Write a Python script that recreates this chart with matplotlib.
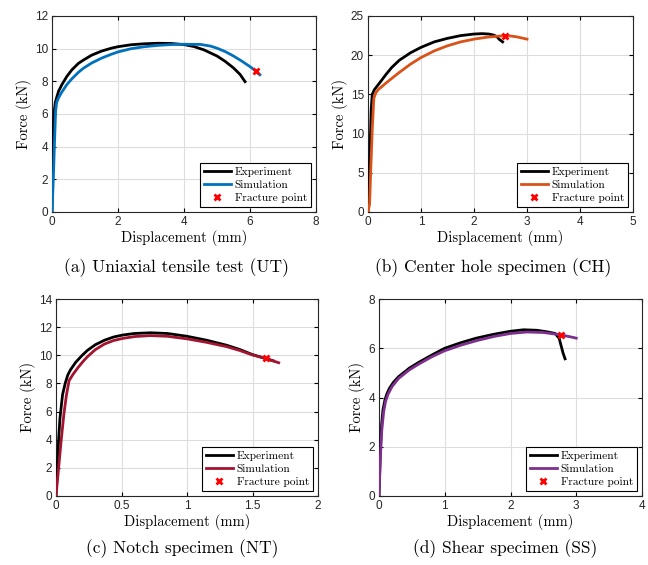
import matplotlib
matplotlib.use("Agg")
import matplotlib.pyplot as plt

# (a) Uniaxial tensile test
ut_exp_x = [0, 0.02, 0.04, 0.07, 0.1, 0.14, 0.2, 0.3, 0.45, 0.6, 0.8, 0.95, 1.2, 1.5, 1.8, 2.0, 2.4,
            2.8, 3.2, 3.6, 4.0, 4.3, 4.6, 5.0, 5.25, 5.5, 5.7, 5.85]
ut_exp_y = [0, 3.0, 5.0, 6.2, 6.7, 7.0, 7.4, 7.8, 8.3, 8.7, 9.1, 9.3, 9.6, 9.85, 10.03, 10.12, 10.24,
            10.3, 10.33, 10.32, 10.25, 10.13, 9.93, 9.55, 9.22, 8.82, 8.42, 7.98]
ut_sim_x = [0, 0.04, 0.08, 0.11, 0.14, 0.2, 0.3, 0.45, 0.6, 0.8, 0.95, 1.2, 1.5, 1.8, 2.0, 2.4, 2.8,
            3.2, 3.6, 4.0, 4.5, 4.8, 5.0, 5.25, 5.5, 5.75, 6.0, 6.15, 6.3]
ut_sim_y = [0, 2.0, 4.5, 6.2, 6.7, 7.0, 7.35, 7.8, 8.15, 8.55, 8.8, 9.12, 9.42, 9.66, 9.8, 10.0, 10.12,
            10.2, 10.25, 10.27, 10.26, 10.16, 10.03, 9.82, 9.55, 9.24, 8.9, 8.67, 8.4]
ut_frac = (6.17, 8.65)

# (b) Center hole specimen
ch_exp_x = [0, 0.02, 0.04, 0.06, 0.08, 0.12, 0.2, 0.34, 0.45, 0.59, 0.8, 1.0, 1.25, 1.5, 1.75, 2.0,
            2.15, 2.28, 2.38, 2.44, 2.48, 2.54]
ch_exp_y = [0, 3.0, 8.0, 13.0, 15.0, 15.6, 16.3, 17.55, 18.45, 19.35, 20.3, 21.0, 21.7, 22.15, 22.5,
            22.7, 22.75, 22.7, 22.55, 22.3, 22.0, 21.7]
ch_sim_x = [0, 0.03, 0.05, 0.08, 0.11, 0.15, 0.2, 0.34, 0.45, 0.59, 0.8, 1.0, 1.25, 1.5, 1.75, 2.0,
            2.25, 2.5, 2.65, 2.8, 3.0]
ch_sim_y = [0, 1.0, 5.0, 10.5, 14.5, 15.25, 15.65, 16.45, 17.05, 17.8, 18.85, 19.7, 20.55, 21.2, 21.7,
            22.05, 22.3, 22.45, 22.48, 22.35, 22.05]
ch_frac = (2.58, 22.45)

# (c) Notch specimen
nt_exp_x = [0, 0.01, 0.02, 0.03, 0.05, 0.07, 0.09, 0.11, 0.15, 0.2, 0.24, 0.3, 0.37, 0.44, 0.51, 0.6,
            0.72, 0.85, 1.0, 1.15, 1.3, 1.4, 1.5, 1.6, 1.66]
nt_exp_y = [0, 2.0, 4.0, 5.5, 7.2, 8.0, 8.6, 8.96, 9.5, 10.0, 10.35, 10.75, 11.07, 11.3, 11.44, 11.55,
            11.6, 11.55, 11.35, 11.07, 10.72, 10.42, 10.05, 9.77, 9.6]
nt_sim_x = [0, 0.02, 0.04, 0.06, 0.08, 0.1, 0.13, 0.17, 0.21, 0.24, 0.3, 0.37, 0.44, 0.51, 0.6, 0.72,
            0.85, 1.0, 1.15, 1.3, 1.4, 1.5, 1.6, 1.7]
nt_sim_y = [0, 2.0, 4.0, 5.8, 7.2, 8.2, 8.65, 9.15, 9.6, 9.9, 10.4, 10.8, 11.05, 11.2, 11.33, 11.4,
            11.35, 11.17, 10.92, 10.62, 10.35, 10.02, 9.78, 9.47]
nt_frac = (1.606, 9.81)

# (d) Shear specimen
ss_exp_x = [0, 0.02, 0.04, 0.06, 0.09, 0.12, 0.16, 0.22, 0.3, 0.46, 0.6, 0.8, 1.0, 1.25, 1.48, 1.75,
            2.0, 2.2, 2.4, 2.55, 2.68, 2.74, 2.77, 2.8, 2.83]
ss_exp_y = [0, 1.8, 2.9, 3.5, 3.9, 4.15, 4.38, 4.62, 4.85, 5.19, 5.42, 5.72, 6.0, 6.23, 6.41, 6.57,
            6.69, 6.75, 6.73, 6.67, 6.6, 6.4, 6.1, 5.8, 5.57]
ss_sim_x = [0, 0.02, 0.04, 0.07, 0.1, 0.14, 0.2, 0.3, 0.46, 0.6, 0.8, 1.0, 1.25, 1.5, 1.75, 2.0, 2.25,
            2.5, 2.75, 2.9, 3.0]
ss_sim_y = [0, 1.5, 2.6, 3.4, 3.85, 4.15, 4.45, 4.78, 5.12, 5.35, 5.65, 5.9, 6.13, 6.32, 6.48, 6.6,
            6.66, 6.64, 6.55, 6.47, 6.41]
ss_frac = (2.77, 6.54)

captions = ["(a) Uniaxial tensile test (UT)", "(b) Center hole specimen (CH)",
            "(c) Notch specimen (NT)", "(d) Shear specimen (SS)"]

W, H = 648, 565
fig = plt.figure(figsize=(W / 100, H / 100), dpi=100)


def px_axes(left, top, right, bottom):
    return fig.add_axes([left / W, 1 - bottom / H, (right - left) / W, (bottom - top) / H])


def panel(ax, ex, ey, sx, sy, frac, sim_color, xlim, xticks, ylim, yticks, xlabels=None):
    ax.plot(ex, ey, color="black", lw=2, label="Experiment", zorder=3, solid_joinstyle="round")
    ax.plot(sx, sy, color=sim_color, lw=2, label="Simulation", zorder=3, solid_joinstyle="round")
    ax.plot([frac[0]], [frac[1]], "x", color="red", ms=5, mew=2, label="Fracture point",
            linestyle="none", zorder=4)
    ax.set_xlim(xlim)
    ax.set_ylim(ylim)
    ax.set_xticks(xticks)
    ax.set_yticks(yticks)
    if xlabels is not None:
        ax.set_xticklabels(xlabels)
    ax.grid(True, color="#dddddd", lw=0.8)
    ax.set_axisbelow(True)
    ax.tick_params(direction="in", top=True, right=True, length=3, labelsize=8.5,
                   labelcolor="#262626", pad=3)
    for lab in ax.get_xticklabels() + ax.get_yticklabels():
        lab.set_family("Liberation Sans")
    for s in ax.spines.values():
        s.set_linewidth(0.8)
        s.set_color("#262626")
    ax.set_xlabel("Displacement (mm)", family="cmr10", fontsize=10.5, labelpad=1)
    ax.set_ylabel("Force (kN)", family="cmr10", fontsize=10.5, labelpad=2)
    leg = ax.legend(loc="lower right", prop={"family": "cmr10", "size": 8.2},
                    fancybox=False, framealpha=1, edgecolor="black", handlelength=2.4,
                    handletextpad=0.3, borderpad=0.35, labelspacing=0.25,
                    borderaxespad=0.45)
    leg.get_frame().set_linewidth(0.8)


ax_a = px_axes(52, 16, 316, 212)
panel(ax_a, ut_exp_x, ut_exp_y, ut_sim_x, ut_sim_y, ut_frac, (0, 0.447, 0.741),
      (0, 8), [0, 2, 4, 6, 8], (0, 12), [0, 2, 4, 6, 8, 10, 12])

ax_b = px_axes(368, 16, 633, 212)
panel(ax_b, ch_exp_x, ch_exp_y, ch_sim_x, ch_sim_y, ch_frac, (0.85, 0.325, 0.098),
      (0, 5), [0, 1, 2, 3, 4, 5], (0, 25), [0, 5, 10, 15, 20, 25])

ax_c = px_axes(56, 299, 318, 496)
panel(ax_c, nt_exp_x, nt_exp_y, nt_sim_x, nt_sim_y, nt_frac, (0.635, 0.078, 0.184),
      (0, 2), [0, 0.5, 1, 1.5, 2], (0, 14), [0, 2, 4, 6, 8, 10, 12, 14],
      xlabels=["0", "0.5", "1", "1.5", "2"])

ax_d = px_axes(379, 299, 642, 496)
panel(ax_d, ss_exp_x, ss_exp_y, ss_sim_x, ss_sim_y, ss_frac, (0.494, 0.184, 0.556),
      (0, 4), [0, 1, 2, 3, 4], (0, 8), [0, 2, 4, 6, 8])

cap_pos = [(177, 268), (493, 268), (182, 549), (505, 549)]
for (cx, cy), txt in zip(cap_pos, captions):
    fig.text(cx / W, 1 - cy / H, txt, family="cmr10", fontsize=12.5, ha="center", va="center")

fig.savefig("out.png", dpi=100)
